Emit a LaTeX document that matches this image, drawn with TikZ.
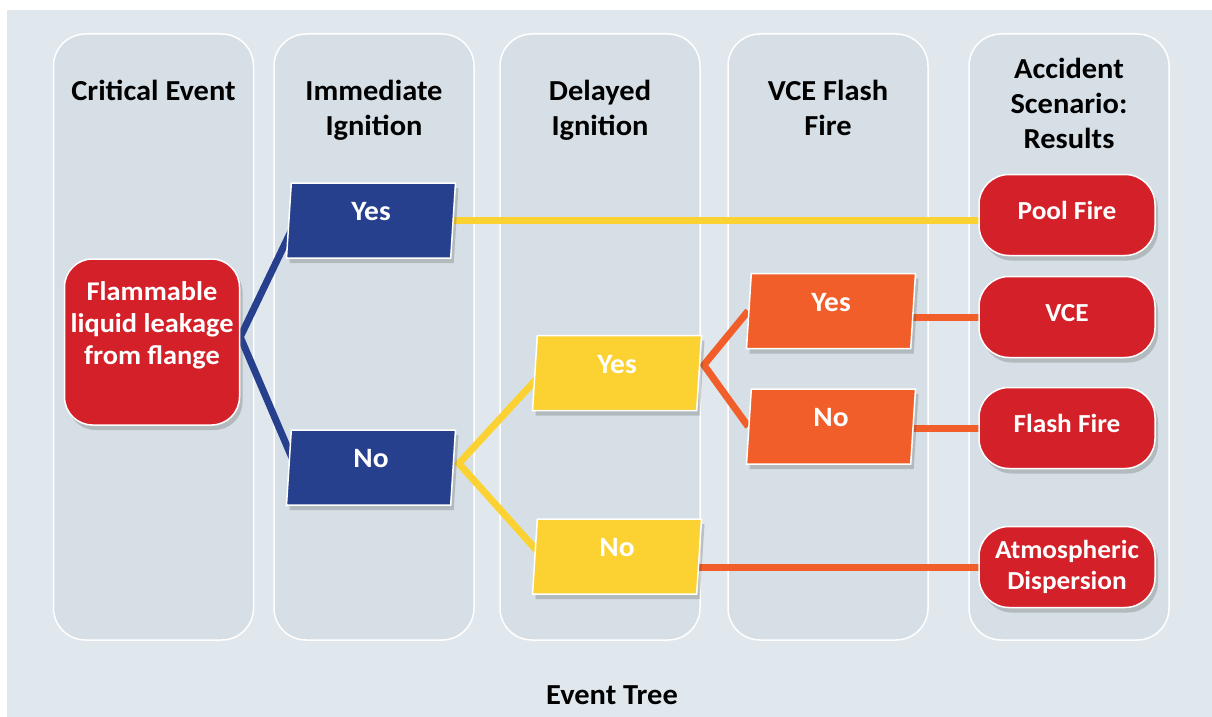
\documentclass[tikz,border=0pt]{standalone}
\usepackage{fontspec}
\setmainfont{Carlito}[FakeStretch=1.05]
\usetikzlibrary{positioning,shapes.geometric,shadows}

\pgfdeclarelayer{lanes}
\pgfdeclarelayer{links}
\pgfsetlayers{lanes,links,main}

\definecolor{panelbg}{RGB}{224,232,238}
\definecolor{lanebg}{RGB}{213,223,229}
\definecolor{evred}{RGB}{212,33,41}
\definecolor{navy}{RGB}{39,64,142}
\definecolor{amber}{RGB}{252,210,50}
\definecolor{flame}{RGB}{241,94,41}

\tikzset{
  lane/.style      = {shape=rectangle, rounded corners=32pt,
                      draw=white, line width=1.5pt, fill=lanebg,
                      minimum width=200pt, minimum height=606pt},
  header/.style    = {font=\fontsize{29}{35}\selectfont\bfseries,
                      align=center, anchor=north, inner sep=0pt},
  boxnode/.style   = {draw=white, line width=1.5pt, text=white,
                      align=center, inner sep=0pt,
                      font=\fontsize{28}{32}\selectfont\bfseries,
                      drop shadow={shadow xshift=3pt, shadow yshift=-5pt,
                                   opacity=0.25, fill=black!70}},
  event/.style     = {boxnode, rounded corners=28pt, fill=evred,
                      minimum width=175pt, minimum height=166pt,
                      font=\fontsize{27}{32}\selectfont\bfseries,
                      text depth=38pt},
  branch/.style    = {boxnode, shape=trapezium,
                      trapezium left angle=82.4, trapezium right angle=97.6,
                      trapezium stretches body,
                      minimum width=169pt, minimum height=75pt,
                      text height=18pt, text depth=18pt},
  immbranch/.style = {branch, fill=navy},
  delbranch/.style = {branch, fill=amber},
  vcebranch/.style = {branch, fill=flame},
  result/.style    = {boxnode, rounded corners=30pt, fill=evred,
                      minimum width=176pt, minimum height=81pt,
                      font=\fontsize{26}{31}\selectfont\bfseries},
  oneline/.style   = {text height=18pt, text depth=10pt}
}

\begin{document}
\begin{tikzpicture}
[
    x=1pt, y=-1pt,
    link/.style = {line width=7pt, line join=miter}
  ]
\useasboundingbox (0,0) rectangle (1212,717);

\begin{pgfonlayer}{lanes}
\fill[white] (0,0) rectangle (1212,717);
\fill[panelbg] (7,10) rectangle (1212,717);
\node[lane] (lane1) at (153.5,337) {};
\node[lane] (lane2) at (374,337) {};
\node[lane] (lane3) at (600,337) {};
\node[lane] (lane4) at (828,337) {};
\node[lane] (lane5) at (1069,337) {};
\end{pgfonlayer}

\node[header, below=47pt of lane1.north] {Critical Event};
\node[header, below=47pt of lane2.north] {Immediate\\Ignition};
\node[header, below=47pt of lane3.north] {Delayed\\Ignition};
\node[header, below=47pt of lane4.north] {VCE Flash\\Fire};
\node[header, below=25pt of lane5.north] {Accident\\Scenario:\\Results};

\node[event] (crit) at (152,342) {Flammable\\liquid leakage\\from flange};

\node[immbranch] (iyes) at (371,220.5) {Yes};
\node[immbranch] (ino)  at (371,467.5) {No};
\node[delbranch] (dyes) at (617,373) {Yes};
\node[delbranch] (dno)  at (617,556.5) {No};
\node[vcebranch] (vyes) at (831,311) {Yes};
\node[vcebranch] (vno)  at (831,426.5) {No};

\node[result, oneline] (rpool)  at (1067,215) {Pool Fire};
\node[result, oneline] (rvce)   at (1067,317) {VCE};
\node[result, oneline] (rflash) at (1067,428) {Flash Fire};
\node[result] (ratm) at (1067,567) {Atmospheric\\Dispersion};

\node[header] (title) at (612,685) {Event Tree};

\begin{pgfonlayer}{links}
\draw[link, navy] ([xshift=8pt]iyes.west) -- ([yshift=5pt]crit.east) -- ([xshift=8pt]ino.west);
\draw[link, amber] ([xshift=8pt]dyes.west) -- ([xshift=5pt,yshift=4pt]ino.east) -- ([xshift=8pt]dno.west);
\draw[link, amber] (iyes.center) -- (iyes.center -| rpool.center);
\draw[link, flame] (vyes.west) -- ([xshift=4pt,yshift=8pt]dyes.east) -- (vno.west);
\draw[link, flame] (vyes.center |- rvce.center) -- (rvce.center);
\draw[link, flame] (vno.center |- rflash.center) -- (rflash.center);
\draw[link, flame] (dno.center |- ratm.center) -- (ratm.center);
\end{pgfonlayer}
\end{tikzpicture}
\end{document}
